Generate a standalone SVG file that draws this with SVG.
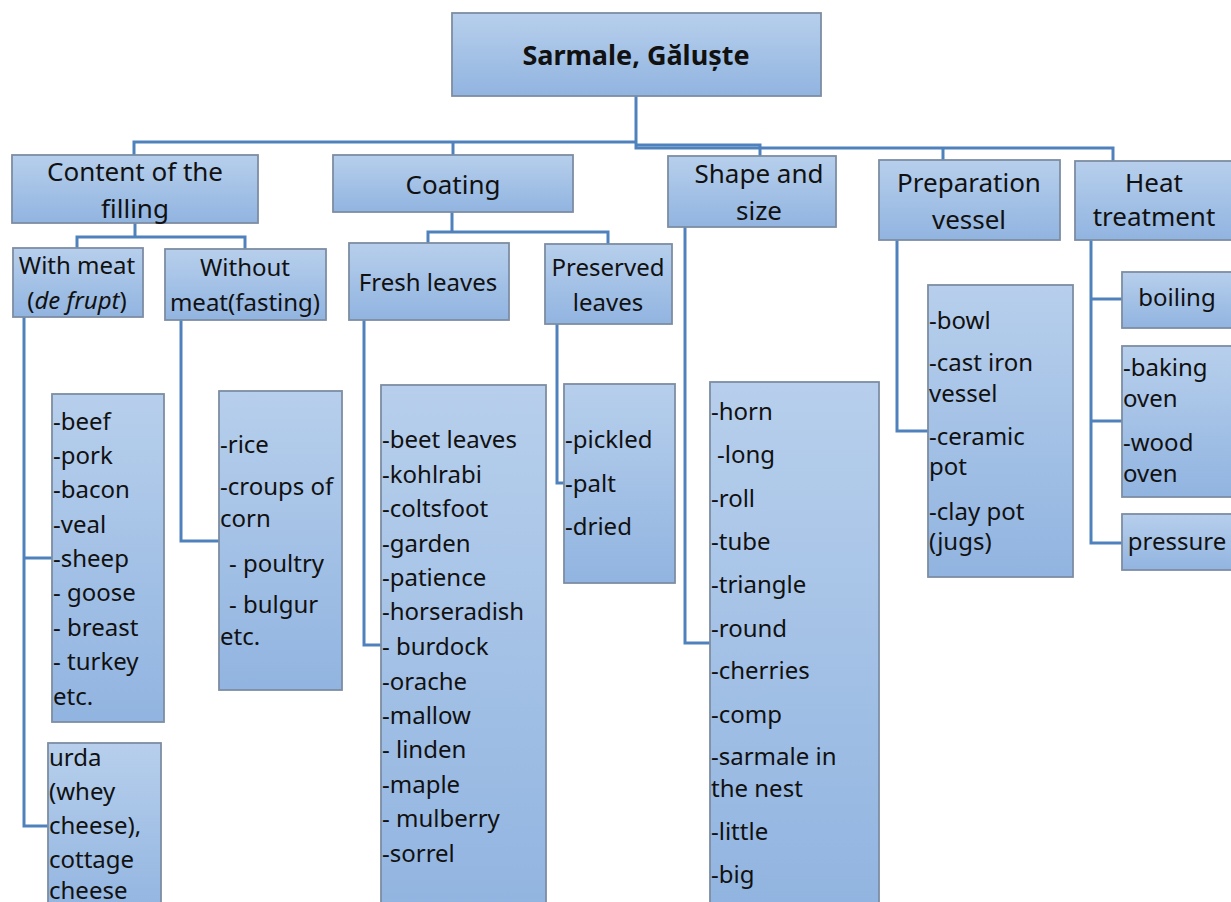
<svg xmlns="http://www.w3.org/2000/svg" width="1231" height="902" viewBox="0 0 1231 902">
<defs>
<linearGradient id="g" x1="0" y1="0" x2="0" y2="1">
<stop offset="0" stop-color="#b7cfec"/>
<stop offset="1" stop-color="#91b4e0"/>
</linearGradient>
<style>
.box{fill:url(#g);stroke:#7d8da3;stroke-width:1.8}
text{font-family:"Noto Sans","DejaVu Sans",sans-serif;fill:#111}
.h{font-size:26px;text-anchor:middle}
.s{font-size:24px;text-anchor:middle}
.l{font-size:24px}
.r{font-size:27px;font-weight:bold;text-anchor:middle}
.c{fill:none;stroke:#4f81bd;stroke-width:3}
</style>
</defs>
<rect width="1231" height="902" fill="#fff"/>
<g id="connectors">
<path class="c" d="M636,96 V148 H1113 V161"/>
<path class="c" d="M134,155 V142 H636"/>
<path class="c" d="M636,145 H760 V156"/>
<path class="c" d="M943,148 V160"/>
<path class="c" d="M453,142 V155"/>
<path class="c" d="M135,223 V237"/>
<path class="c" d="M77,248 V237 H245 V249"/>
<path class="c" d="M452,212 V232"/>
<path class="c" d="M428,243 V232 H608 V244"/>
<path class="c" d="M24,317 V826 H48"/>
<path class="c" d="M24,558 H52"/>
<path class="c" d="M181,320 V541 H219"/>
<path class="c" d="M364,320 V645 H381"/>
<path class="c" d="M557,324 V483 H564"/>
<path class="c" d="M685,227 V643 H710"/>
<path class="c" d="M897,240 V431 H928"/>
<path class="c" d="M1091,240 V543 H1122"/>
<path class="c" d="M1091,299 H1122"/>
<path class="c" d="M1091,421 H1122"/>
</g>
<g id="root">
<rect class="box" x="452" y="13" width="369" height="83"/>
<text class="r" x="636" y="65">Sarmale, Găluște</text>
</g>
<g id="content">
<rect class="box" x="12" y="155" width="246" height="68"/>
<text class="h" x="135" y="181">Content of the</text>
<text class="h" x="135" y="218">filling</text>
</g>
<g id="coating">
<rect class="box" x="333" y="155" width="240" height="57"/>
<text class="h" x="453" y="194">Coating</text>
</g>
<g id="shape">
<rect class="box" x="668" y="156" width="168" height="71"/>
<text class="h" x="759" y="183">Shape and</text>
<text class="h" x="759" y="220">size</text>
</g>
<g id="prep">
<rect class="box" x="879" y="160" width="181" height="80"/>
<text class="h" x="969" y="192">Preparation</text>
<text class="h" x="969" y="229">vessel</text>
</g>
<g id="heat">
<rect class="box" x="1075" y="161" width="158" height="79"/>
<text class="h" x="1154" y="192">Heat</text>
<text class="h" x="1154" y="226">treatment</text>
</g>
<g id="withmeat">
<rect class="box" x="13" y="248" width="130" height="69"/>
<text class="s" x="77" y="274">With meat</text>
<text class="s" x="77" y="309">(<tspan font-style="italic">de frupt</tspan>)</text>
</g>
<g id="without">
<rect class="box" x="165" y="249" width="161" height="71"/>
<text class="s" x="245" y="276">Without</text>
<text class="s" x="245" y="311">meat(fasting)</text>
</g>
<g id="fresh">
<rect class="box" x="349" y="243" width="160" height="77"/>
<text class="s" x="428" y="291">Fresh leaves</text>
</g>
<g id="preserved">
<rect class="box" x="545" y="244" width="127" height="80"/>
<text class="s" x="608" y="276">Preserved</text>
<text class="s" x="608" y="311">leaves</text>
</g>
<g id="meatlist">
<rect class="box" x="52" y="394" width="112" height="328"/>
<text class="l" x="53" y="430">-beef</text>
<text class="l" x="53" y="464">-pork</text>
<text class="l" x="53" y="498">-bacon</text>
<text class="l" x="53" y="533">-veal</text>
<text class="l" x="53" y="567">-sheep</text>
<text class="l" x="53" y="601" xml:space="preserve">- goose</text>
<text class="l" x="53" y="636" xml:space="preserve">- breast</text>
<text class="l" x="53" y="670" xml:space="preserve">- turkey</text>
<text class="l" x="53" y="705">etc.</text>
</g>
<g id="urda">
<rect class="box" x="48" y="743" width="113" height="175"/>
<text class="l" x="49" y="766">urda</text>
<text class="l" x="49" y="800">(whey</text>
<text class="l" x="49" y="834">cheese),</text>
<text class="l" x="49" y="868">cottage</text>
<text class="l" x="49" y="899">cheese</text>
</g>
<g id="fastlist">
<rect class="box" x="219" y="391" width="123" height="299"/>
<text class="l" x="220" y="453">-rice</text>
<text class="l" x="220" y="495">-croups of</text>
<text class="l" x="220" y="527">corn</text>
<text class="l" x="229" y="572">- poultry</text>
<text class="l" x="229" y="613">- bulgur</text>
<text class="l" x="220" y="645">etc.</text>
</g>
<g id="freshlist">
<rect class="box" x="381" y="385" width="165" height="530"/>
<text class="l" x="382" y="448">-beet leaves</text>
<text class="l" x="382" y="483">-kohlrabi</text>
<text class="l" x="382" y="517">-coltsfoot</text>
<text class="l" x="382" y="552">-garden</text>
<text class="l" x="382" y="586">-patience</text>
<text class="l" x="382" y="620">-horseradish</text>
<text class="l" x="382" y="655" xml:space="preserve">- burdock</text>
<text class="l" x="382" y="690">-orache</text>
<text class="l" x="382" y="724">-mallow</text>
<text class="l" x="382" y="758" xml:space="preserve">- linden</text>
<text class="l" x="382" y="793">-maple</text>
<text class="l" x="382" y="827" xml:space="preserve">- mulberry</text>
<text class="l" x="382" y="862">-sorrel</text>
</g>
<g id="preslist">
<rect class="box" x="564" y="384" width="111" height="199"/>
<text class="l" x="565" y="448">-pickled</text>
<text class="l" x="565" y="492">-palt</text>
<text class="l" x="565" y="535">-dried</text>
</g>
<g id="shapelist">
<rect class="box" x="710" y="382" width="169" height="530"/>
<text class="l" x="711" y="420">-horn</text>
<text class="l" x="717" y="463">-long</text>
<text class="l" x="711" y="507">-roll</text>
<text class="l" x="711" y="550">-tube</text>
<text class="l" x="711" y="593">-triangle</text>
<text class="l" x="711" y="637">-round</text>
<text class="l" x="711" y="679">-cherries</text>
<text class="l" x="711" y="723">-comp</text>
<text class="l" x="711" y="765">-sarmale in</text>
<text class="l" x="711" y="797">the nest</text>
<text class="l" x="711" y="840">-little</text>
<text class="l" x="711" y="883">-big</text>
</g>
<g id="preplist">
<rect class="box" x="928" y="285" width="145" height="292"/>
<text class="l" x="929" y="329">-bowl</text>
<text class="l" x="929" y="371">-cast iron</text>
<text class="l" x="929" y="402">vessel</text>
<text class="l" x="929" y="445">-ceramic</text>
<text class="l" x="929" y="475">pot</text>
<text class="l" x="929" y="520">-clay pot</text>
<text class="l" x="929" y="550">(jugs)</text>
</g>
<g id="boiling">
<rect class="box" x="1122" y="272" width="112" height="56"/>
<text class="s" x="1177" y="306">boiling</text>
</g>
<g id="oven">
<rect class="box" x="1122" y="346" width="112" height="151"/>
<text class="l" x="1123" y="376">-baking</text>
<text class="l" x="1123" y="407">oven</text>
<text class="l" x="1123" y="451">-wood</text>
<text class="l" x="1123" y="482">oven</text>
</g>
<g id="pressure">
<rect class="box" x="1122" y="514" width="112" height="56"/>
<text class="s" x="1177" y="550">pressure</text>
</g>
</svg>
